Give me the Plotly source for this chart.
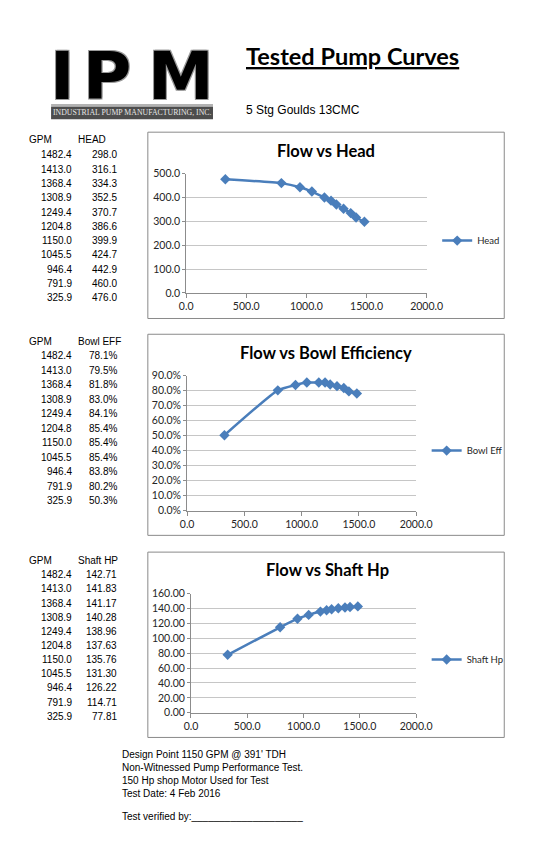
import plotly.graph_objects as go

W, H = 549, 843

# ---------------- data ----------------
gpm = [1482.4, 1413.0, 1368.4, 1308.9, 1249.4, 1204.8, 1150.0, 1045.5, 946.4, 791.9, 325.9]
head = [298.0, 316.1, 334.3, 352.5, 370.7, 386.6, 399.9, 424.7, 442.9, 460.0, 476.0]
bowl_eff = [78.1, 79.5, 81.8, 83.0, 84.1, 85.4, 85.4, 85.4, 83.8, 80.2, 50.3]
shaft_hp = [142.71, 141.83, 141.17, 140.28, 138.96, 137.63, 135.76, 131.30, 126.22, 114.71, 77.81]

chart_titles = ["Flow vs Head", "Flow vs Bowl Efficiency", "Flow vs Shaft Hp"]
series_names = ["Head", "Bowl Eff", "Shaft Hp"]
table_headers = ["HEAD", "Bowl EFF", "Shaft HP"]
notes = ["Design Point 1150 GPM @ 391' TDH",
         "Non-Witnessed Pump Performance Test.",
         "150 Hp shop Motor Used for Test",
         "Test Date: 4 Feb 2016"]

BLUE = "#4a7ebb"
GRID = "#c6c6c6"
AXC = "#8c8c8c"
TXT = "#262626"


def px(x):
    return x / W


def py(y):
    return 1 - y / H


fig = go.Figure()

# ---------------- traces ----------------
ys = [head, bowl_eff, shaft_hp]
legends = ["legend", "legend2", "legend3"]
for i in range(3):
    fig.add_trace(go.Scatter(
        x=gpm, y=ys[i], mode="lines+markers", name=series_names[i],
        line=dict(color=BLUE, width=2.5, shape="spline", smoothing=0.5),
        marker=dict(symbol="diamond", size=8, color=BLUE),
        xaxis="x" if i == 0 else f"x{i+1}",
        yaxis="y" if i == 0 else f"y{i+1}",
        legend=legends[i], showlegend=True,
    ))

# ---------------- axes ----------------
tickfont = dict(family="Lato, Carlito, sans-serif", size=10.5, color=TXT)
xdom = [(187, 438), (188, 427), (192, 427)]
ydom = [(170, 291), (375, 512), (596, 717)]
yranges = [(0, 500), (0, 90), (0, 160)]
ydticks = [100, 10, 20]
yfmts = [".1f", ".1f", ".2f"]
ysuffix = ["", "%", ""]

layout_axes = {}
for i in range(3):
    xk = "xaxis" if i == 0 else f"xaxis{i+1}"
    yk = "yaxis" if i == 0 else f"yaxis{i+1}"
    xa = "x" if i == 0 else f"x{i+1}"
    ya = "y" if i == 0 else f"y{i+1}"
    layout_axes[xk] = dict(
        domain=[px(xdom[i][0]), px(xdom[i][1])], anchor=ya,
        range=[0, 2000], dtick=500, tick0=0, tickformat=".1f",
        showline=True, linecolor=AXC, linewidth=1,
        ticks="outside", ticklen=4, tickcolor=AXC,
        showgrid=False, zeroline=False, tickfont=tickfont,
        fixedrange=True,
    )
    layout_axes[yk] = dict(
        domain=[py(ydom[i][1]), py(ydom[i][0])], anchor=xa,
        range=list(yranges[i]), dtick=ydticks[i], tick0=0,
        tickformat=yfmts[i], ticksuffix=ysuffix[i],
        showline=True, linecolor=AXC, linewidth=1,
        ticks="outside", ticklen=3, tickcolor=AXC,
        showgrid=True, gridcolor=GRID, gridwidth=1,
        zeroline=False, tickfont=tickfont, fixedrange=True,
    )

# ---------------- shapes ----------------
shapes = []
boxes = [(147, 128, 519, 317), (147, 333, 519, 537), (147, 554, 519, 742)]
for (x0, y0, x1, y1) in boxes:
    shapes.append(dict(type="rect", xref="paper", yref="paper",
                       x0=px(x0), x1=px(x1), y0=py(y1), y1=py(y0),
                       line=dict(color="#8a8a8a", width=1), fillcolor="rgba(0,0,0,0)"))
# logo band
shapes.append(dict(type="rect", xref="paper", yref="paper",
                   x0=px(46), x1=px(215), y0=py(115), y1=py(102),
                   line=dict(width=0), fillcolor="#4d4d4d"))
shapes.append(dict(type="line", xref="paper", yref="paper",
                   x0=px(46), x1=px(215), y0=py(100.5), y1=py(100.5),
                   line=dict(color="#9a9a9a", width=1.5)))

# ---------------- annotations ----------------
ann = []


def txt(text, x, y, size=10, family="Liberation Sans, Arial, sans-serif",
        color="#000", xanchor="left", yanchor="middle", **kw):
    ann.append(dict(text=text, x=px(x), y=py(y), xref="paper", yref="paper",
                    xanchor=xanchor, yanchor=yanchor, showarrow=False,
                    font=dict(size=size, family=family, color=color, **kw)))


# logo letters
logo_font = "DejaVu Sans, sans-serif"
shadow = "1px 1px 0 #9a9a9a, -1px -1px 0 #9a9a9a, 1px -1px 0 #9a9a9a, -1px 1px 0 #9a9a9a"
txt("<b>I</b>", 58, 72, size=66, family=logo_font, xanchor="center", shadow=shadow)
txt("<b>P</b>", 104, 72, size=66, family=logo_font, xanchor="center", shadow=shadow)
txt("<b>M</b>", 182, 72, size=66, family=logo_font, xanchor="center", shadow=shadow)
txt("INDUSTRIAL PUMP MANUFACTURING, INC.", 130.5, 108.5, size=7.8,
    family="Liberation Serif, serif", color="#e6e6e6", xanchor="center")

# page title
txt("<b>Tested Pump Curves</b>", 361, 51, size=23.5, family="Lato, Carlito, sans-serif",
    xanchor="center", lineposition="under")
txt("5 Stg Goulds 13CMC", 247, 105, size=12)

# chart titles
title_pos = [(333, 147), (333, 352), (334, 572)]
for t, (x, y) in zip(chart_titles, title_pos):
    txt(f"<b>{t}</b>", x, y, size=16.5, family="Lato, Carlito, sans-serif",
        xanchor="center")

# tables
tab_hdr_y = [135, 340, 562]
tab_row0 = [151, 355, 577]
tab_step = [14.5, 14.7, 14.35]
vals_fmt = [[f"{v:.1f}" for v in head],
            [f"{v:.1f}%" for v in bowl_eff],
            [f"{v:.2f}" for v in shaft_hp]]
for k in range(3):
    txt("GPM", 21, tab_hdr_y[k], size=10)
    txt(table_headers[k], 72, tab_hdr_y[k], size=10)
    for j, g in enumerate(gpm):
        yy = tab_row0[k] + j * tab_step[k]
        txt(f"{g:.1f}", 70, yy, size=10, xanchor="right")
        txt(vals_fmt[k][j], 117, yy, size=10, xanchor="right")

# bottom notes
note_y = [759, 773, 786, 799]
for t, y in zip(notes, note_y):
    txt(t, 118, y, size=10)
txt("Test verified by:" + "_" * 20, 118, 822, size=10)

# ---------------- legends ----------------
legfont = dict(family="Lato, Carlito, sans-serif", size=9.5, color=TXT)
leg_pos = [(449, 238), (438, 451), (438, 663)]
leg_layout = {}
for i, (lx, ly) in enumerate(leg_pos):
    key = legends[i]
    leg_layout[key] = dict(x=px(lx), y=py(ly), xanchor="left", yanchor="middle",
                           xref="paper", yref="paper",
                           bgcolor="rgba(0,0,0,0)", borderwidth=0, font=legfont,
                           itemclick=False, itemdoubleclick=False)

fig.update_layout(
    width=W, height=H, autosize=False,
    margin=dict(l=0, r=0, t=0, b=0),
    paper_bgcolor="white", plot_bgcolor="white",
    shapes=shapes, annotations=ann,
    **layout_axes, **leg_layout,
)

fig.write_html(
    "out.html",
    config={"displayModeBar": False},
    post_script="document.body.style.margin='0px'; document.documentElement.style.margin='0px'; document.body.style.overflow='hidden';",
)
